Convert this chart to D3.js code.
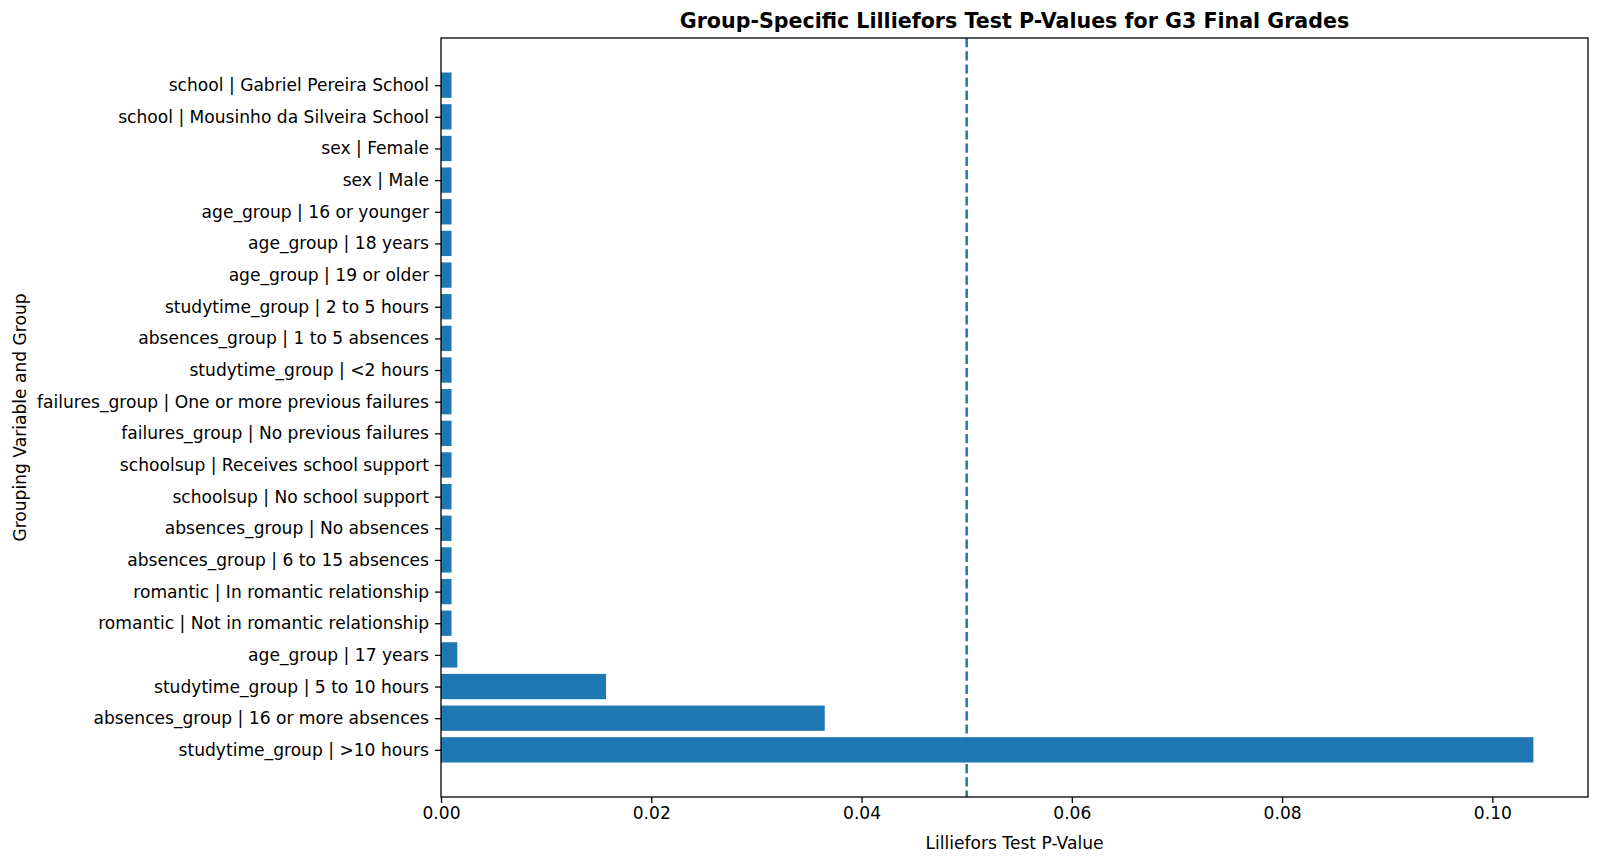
<!DOCTYPE html>
<html>
<head>
<meta charset="utf-8">
<script src="https://cdn.jsdelivr.net/npm/d3@7"></script>
<style>
  body { margin: 0; background: #fff; }
  svg text { font-family: "DejaVu Sans", sans-serif; fill: #000; }
</style>
</head>
<body>
<div id="chart"></div>
<script>
// Groups, listed from bottom bar to top bar
var groups = [
    "studytime_group | >10 hours",
    "absences_group | 16 or more absences",
    "studytime_group | 5 to 10 hours",
    "age_group | 17 years",
    "romantic | Not in romantic relationship",
    "romantic | In romantic relationship",
    "absences_group | 6 to 15 absences",
    "absences_group | No absences",
    "schoolsup | No school support",
    "schoolsup | Receives school support",
    "failures_group | No previous failures",
    "failures_group | One or more previous failures",
    "studytime_group | <2 hours",
    "absences_group | 1 to 5 absences",
    "studytime_group | 2 to 5 hours",
    "age_group | 19 or older",
    "age_group | 18 years",
    "age_group | 16 or younger",
    "sex | Male",
    "sex | Female",
    "school | Mousinho da Silveira School",
    "school | Gabriel Pereira School"
];

// Lilliefors p-values, same order
var pValues = [
    0.1039, 0.0365, 0.0157, 0.00155,
    0.001, 0.001, 0.001, 0.001, 0.001, 0.001, 0.001,
    0.001, 0.001, 0.001, 0.001, 0.001, 0.001, 0.001,
    0.001, 0.001, 0.001, 0.001
];

var xTicks = [0, 0.02, 0.04, 0.06, 0.08, 0.10];
var alphaLine = 0.05;

var data = groups.map(function(g, i) { return { key: g, value: pValues[i], idx: i }; });

var W = 1600, H = 863;
var margin = { top: 38, right: 12, bottom: 66, left: 441 },
    width = W - margin.left - margin.right,
    height = H - margin.top - margin.bottom;

var svg = d3.select("#chart")
    .append("svg")
    .attr("width", W)
    .attr("height", H);

var g = svg.append("g")
    .attr("transform", "translate(" + margin.left + "," + margin.top + ")");

// matplotlib-style 5% margins
var maxVal = d3.max(pValues);
var x = d3.scaleLinear()
    .domain([0, maxVal * 1.05])
    .range([0, width]);

var barH = 0.8;
var lo = -barH / 2, hi = groups.length - 1 + barH / 2;
var pad = (hi - lo) * 0.05;
var y = d3.scaleLinear()
    .domain([lo - pad, hi + pad])
    .range([height, 0]);

// bars
g.selectAll(".bar")
    .data(data)
    .enter().append("rect")
    .attr("class", "bar")
    .attr("x", x(0))
    .attr("y", function(d) { return y(d.idx + barH / 2); })
    .attr("width", function(d) { return x(d.value) - x(0); })
    .attr("height", function(d) { return y(d.idx - barH / 2) - y(d.idx + barH / 2); })
    .style("fill", "#1f77b4");

// threshold line
g.append("line")
    .attr("x1", x(alphaLine))
    .attr("x2", x(alphaLine))
    .attr("y1", 0)
    .attr("y2", height)
    .style("stroke", "#1f77b4")
    .style("stroke-width", 2.5)
    .style("stroke-dasharray", "9.2,4");

// x axis
var xAxis = g.append("g")
    .attr("transform", "translate(0," + height + ")")
    .call(d3.axisBottom(x).tickValues(xTicks).tickFormat(d3.format(".2f")).tickSizeOuter(0).tickSize(6).tickPadding(4));
xAxis.selectAll("text").style("font-size", "17.1px").attr("dy", "0.7em");

// y axis
var yAxis = g.append("g")
    .call(d3.axisLeft(y).tickValues(d3.range(groups.length))
        .tickFormat(function(i) { return groups[i]; })
        .tickSizeOuter(0).tickSize(6).tickPadding(6));
yAxis.selectAll("text").style("font-size", "17.1px");

g.selectAll(".domain").remove();
g.selectAll(".tick line").style("stroke", "#000").style("stroke-width", 1.3);

// frame
g.append("rect")
    .attr("width", width)
    .attr("height", height)
    .style("fill", "none")
    .style("stroke", "#000")
    .style("stroke-width", 1.3);

// title
svg.append("text")
    .attr("x", margin.left + width / 2)
    .attr("y", 28)
    .attr("text-anchor", "middle")
    .style("font-size", "20.6px")
    .style("font-weight", "bold")
    .text("Group-Specific Lilliefors Test P-Values for G3 Final Grades");

// axis labels
svg.append("text")
    .attr("x", margin.left + width / 2)
    .attr("y", 849)
    .attr("text-anchor", "middle")
    .style("font-size", "17.1px")
    .text("Lilliefors Test P-Value");

svg.append("text")
    .attr("transform", "translate(26," + (margin.top + height / 2) + ") rotate(-90)")
    .attr("text-anchor", "middle")
    .style("font-size", "17.1px")
    .text("Grouping Variable and Group");
</script>
</body>
</html>
